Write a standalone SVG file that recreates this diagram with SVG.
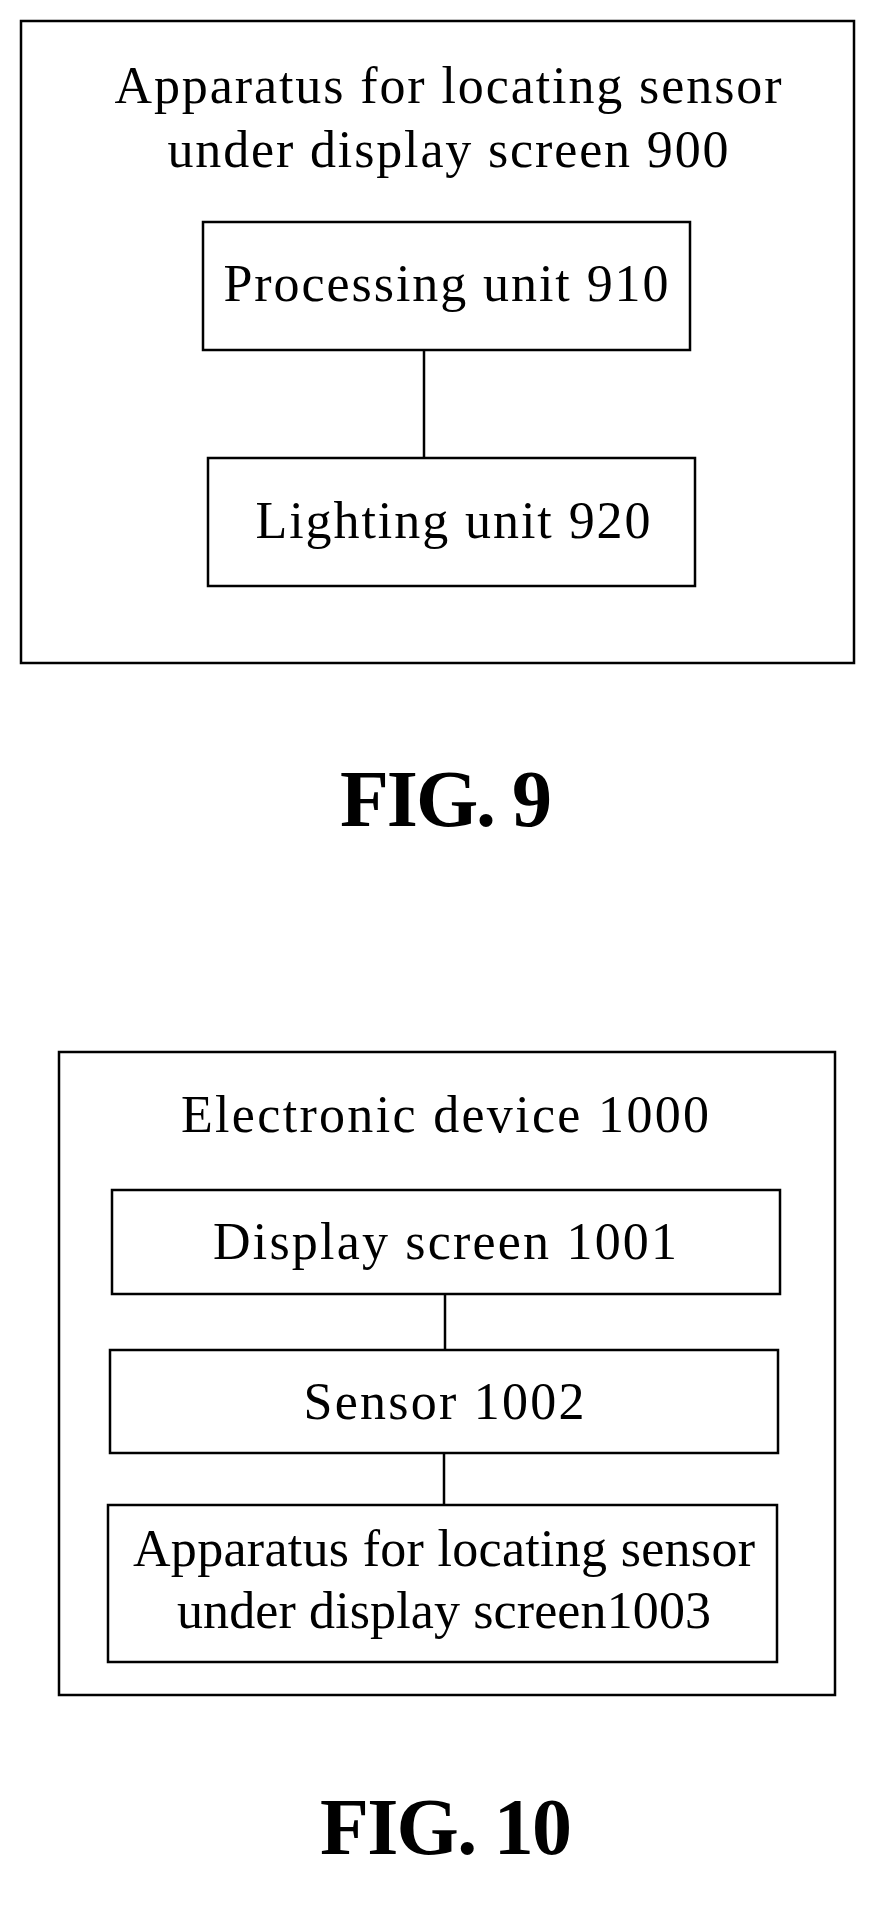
<svg xmlns="http://www.w3.org/2000/svg" width="871" height="1913" viewBox="0 0 871 1913">
<style>
rect{fill:none;stroke:#000;stroke-width:2.5}
line{stroke:#000;stroke-width:2.5}
text{font-family:"Liberation Serif","Times New Roman",serif;font-size:52px;text-anchor:middle;fill:#000}
.fig{font-weight:bold;font-size:80px}
</style>
<rect width="871" height="1913" style="fill:#fff;stroke:none"/>
<g id="apparatus900">
<rect x="21" y="21" width="833" height="642"/>
<text x="448" y="103" textLength="667" lengthAdjust="spacing">Apparatus for locating sensor</text>
<text x="448" y="167" textLength="561" lengthAdjust="spacing">under display screen 900</text>
</g>
<g id="processing910">
<rect x="203" y="222" width="487" height="128"/>
<text x="446" y="301" textLength="445" lengthAdjust="spacing">Processing unit 910</text>
</g>
<g id="lighting920">
<rect x="208" y="458" width="487" height="128"/>
<text x="453" y="538" textLength="395" lengthAdjust="spacing">Lighting unit 920</text>
</g>
<text x="446" y="826" class="fig" textLength="212" lengthAdjust="spacing">FIG. 9</text>
<g id="device1000">
<rect x="59" y="1052" width="776" height="643"/>
<text x="445" y="1132" textLength="528" lengthAdjust="spacing">Electronic device 1000</text>
</g>
<g id="display1001">
<rect x="112" y="1190" width="668" height="104"/>
<text x="445" y="1259" textLength="464" lengthAdjust="spacing">Display screen 1001</text>
</g>
<g id="sensor1002">
<rect x="110" y="1350" width="668" height="103"/>
<text x="444" y="1419" textLength="281" lengthAdjust="spacing">Sensor 1002</text>
</g>
<g id="apparatus1003">
<rect x="108" y="1505" width="669" height="157"/>
<text x="444" y="1566" textLength="622" lengthAdjust="spacing">Apparatus for locating sensor</text>
<text x="444" y="1628" textLength="534" lengthAdjust="spacing">under display screen1003</text>
</g>
<text x="446" y="1854" class="fig" textLength="252" lengthAdjust="spacing">FIG. 10</text>
<g id="connectors">
<line x1="424" y1="350" x2="424" y2="458"/>
<line x1="445" y1="1294" x2="445" y2="1350"/>
<line x1="444" y1="1453" x2="444" y2="1505"/>
</g>
</svg>
